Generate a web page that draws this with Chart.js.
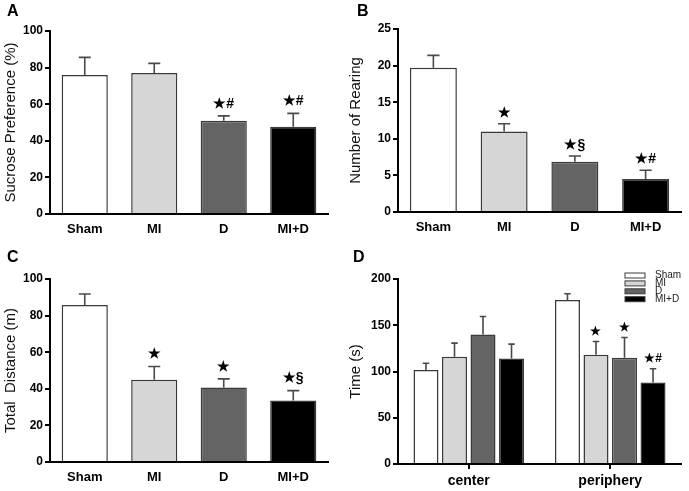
<!DOCTYPE html>
<html>
<head>
<meta charset="utf-8">
<script src="https://cdn.jsdelivr.net/npm/chart.js@4.4.1/dist/chart.umd.min.js"></script>
<style>
  body { margin: 0; background: #fff; }
  #wrap { position: relative; width: 689px; height: 491px; }
  canvas { position: absolute; }
</style>
</head>
<body>
<div id="wrap">
  <canvas id="panelA" width="345" height="245" style="left:0;top:0"></canvas>
  <canvas id="panelB" width="344" height="245" style="left:345px;top:0"></canvas>
  <canvas id="panelC" width="345" height="246" style="left:0;top:245px"></canvas>
  <canvas id="panelD" width="344" height="246" style="left:345px;top:245px"></canvas>
</div>
<script>
// ======================
// Datos
// ======================
const groups = ["Sham", "MI", "D", "MI+D"];
const groupColors = ["#ffffff", "#d6d6d6", "#646464", "#000000"];

// A - preferencia de sacarosa
const sucroseMean = [76, 77, 51, 47.7];
const sucroseErr = [9.6, 5.3, 2.6, 7.3];
const sucroseMarks = ["", "", "★#", "★#"];
const sucroseTicks = [0, 20, 40, 60, 80, 100];

// B - rearing
const rearingMean = [19.7, 11.0, 6.85, 4.5];
const rearingErr = [1.7, 1.05, 0.8, 1.2];
const rearingMarks = ["", "★", "★§", "★#"];
const rearingTicks = [0, 5, 10, 15, 20, 25];

// C - distancia total
const distanceMean = [85.8, 44.9, 40.7, 33.6];
const distanceErr = [6.0, 7.3, 4.7, 5.4];
const distanceMarks = ["", "★", "★", "★§"];
const distanceTicks = [0, 20, 40, 60, 80, 100];

// D - tiempo en centro / periferia
const zones = ["center", "periphery"];
const timeSham = [101.5, 177.4];
const timeShamErr = [7.5, 6.6];
const timeMI = [116, 118];
const timeMIErr = [14.7, 14.4];
const timeD = [140, 114.8];
const timeDErr = [19.4, 21.9];
const timeMID = [114, 88];
const timeMIDErr = [15.6, 15];
const timeMarks = [["", ""], ["", "★"], ["", "★"], ["", "★#"]];
const timeTicks = [0, 50, 100, 150, 200];

const FONT = "'Liberation Sans', Arial, sans-serif";

// ========== Plugins ==========
const errorBars = {
  id: "errorBars",
  afterDatasetsDraw(chart, args, opts) {
    const ctx = chart.ctx;
    const y = chart.scales.y;
    chart.data.datasets.forEach((ds, di) => {
      const meta = chart.getDatasetMeta(di);
      meta.data.forEach((bar, i) => {
        const top = y.getPixelForValue(ds.data[i] + ds.errors[i]);
        const cap = bar.width * 0.13;
        ctx.save();
        ctx.strokeStyle = "#4a4a4a";
        ctx.lineWidth = 1.6;
        ctx.beginPath();
        ctx.moveTo(bar.x, bar.y);
        ctx.lineTo(bar.x, top);
        ctx.moveTo(bar.x - cap, top);
        ctx.lineTo(bar.x + cap, top);
        ctx.stroke();
        const mark = ds.marks[i];
        if (mark) {
          ctx.fillStyle = "#000";
          ctx.font = opts.markFont;
          ctx.textAlign = "center";
          ctx.textBaseline = "bottom";
          ctx.fillText(mark, bar.x, top - opts.markGap);
        }
        ctx.restore();
      });
    });
  }
};

const panelLetter = {
  id: "panelLetter",
  afterDraw(chart, args, opts) {
    const ctx = chart.ctx;
    ctx.save();
    ctx.fillStyle = "#000";
    ctx.font = "bold 16px " + FONT;
    ctx.textBaseline = "alphabetic";
    ctx.fillText(opts.letter, opts.x, opts.y);
    ctx.restore();
  }
};

const boxLegend = {
  id: "boxLegend",
  afterDraw(chart, args, opts) {
    if (!opts.show) return;
    const ctx = chart.ctx;
    ctx.save();
    chart.data.datasets.forEach((ds, i) => {
      const cy = opts.y + i * 7.9;
      ctx.fillStyle = ds.backgroundColor;
      ctx.strokeStyle = "#3a3a3a";
      ctx.lineWidth = 1;
      ctx.fillRect(opts.x, cy - 2.5, 20, 5);
      ctx.strokeRect(opts.x, cy - 2.5, 20, 5);
      ctx.fillStyle = "#222";
      ctx.font = "10px " + FONT;
      ctx.textBaseline = "middle";
      ctx.fillText(ds.label, opts.x + 30, cy);
    });
    ctx.restore();
  }
};

// ========== Helper para cada panel ==========
function makePanel(id, o) {
  new Chart(document.getElementById(id), {
    type: "bar",
    data: { labels: o.labels, datasets: o.datasets },
    options: {
      responsive: false,
      animation: false,
      layout: { padding: { left: 0, top: o.top, right: o.right, bottom: 0 } },
      plugins: {
        legend: { display: false },
        tooltip: { enabled: false },
        errorBars: { markFont: o.markFont, markGap: o.markGap },
        panelLetter: { letter: o.letter, x: o.letterX, y: o.letterY },
        boxLegend: o.legend || { show: false }
      },
      scales: {
        x: {
          afterFit: s => { s.height = o.xHeight; },
          grid: { display: o.xTicks, drawOnChartArea: false, offset: false, drawTicks: o.xTicks,
                  tickLength: 5, color: "#000", lineWidth: 2 },
          border: { display: true, color: "#000", width: 2 },
          ticks: { color: "#000", padding: o.xTicks ? 4 : 8,
                   font: { family: FONT, size: o.xFontSize, weight: "bold" } }
        },
        y: {
          min: o.yTicks[0],
          max: o.yTicks[o.yTicks.length - 1],
          afterFit: s => { s.width = o.yWidth; },
          afterBuildTicks: s => { s.ticks = o.yTicks.map(v => ({ value: v })); },
          grid: { drawOnChartArea: false, drawTicks: true, tickLength: 5, color: "#000", lineWidth: 2 },
          border: { display: true, color: "#000", width: 2 },
          ticks: { color: "#000", padding: 2, font: { family: FONT, size: 12, weight: "bold" } },
          title: { display: true, text: o.yTitle, color: "#111", padding: { top: 2, bottom: 0 },
                   font: { family: FONT, size: 15 } }
        }
      }
    },
    plugins: [errorBars, panelLetter, boxLegend]
  });
}

function singleSeries(values, errors, marks) {
  return [{
    data: values,
    errors: errors,
    marks: marks,
    backgroundColor: groupColors,
    borderColor: "#3a3a3a",
    borderWidth: 1.5,
    categoryPercentage: 1,
    barPercentage: 0.664
  }];
}

// =============================
// A, B, C
// =============================
makePanel("panelA", {
  labels: groups, datasets: singleSeries(sucroseMean, sucroseErr, sucroseMarks),
  yTicks: sucroseTicks, yTitle: "Sucrose Preference (%)", letter: "A", letterX: 7, letterY: 16,
  top: 31, right: 17, yWidth: 50, xHeight: 31, xTicks: false, xFontSize: 13,
  markFont: "bold 14px " + FONT, markGap: 5
});

makePanel("panelB", {
  labels: groups, datasets: singleSeries(rearingMean, rearingErr, rearingMarks),
  yTicks: rearingTicks, yTitle: "Number of Rearing", letter: "B", letterX: 12, letterY: 16,
  top: 29, right: 8, yWidth: 53, xHeight: 33, xTicks: false, xFontSize: 13,
  markFont: "bold 14px " + FONT, markGap: 4
});

makePanel("panelC", {
  labels: groups, datasets: singleSeries(distanceMean, distanceErr, distanceMarks),
  yTicks: distanceTicks, yTitle: "Total  Distance (m)", letter: "C", letterX: 7, letterY: 17,
  top: 34, right: 17, yWidth: 50, xHeight: 29, xTicks: false, xFontSize: 13,
  markFont: "bold 14px " + FONT, markGap: 5
});

// =============================
// D - barras agrupadas
// =============================
const timeValues = [timeSham, timeMI, timeD, timeMID];
const timeErrors = [timeShamErr, timeMIErr, timeDErr, timeMIDErr];

makePanel("panelD", {
  labels: zones,
  datasets: groups.map((g, i) => ({
    label: g,
    data: timeValues[i],
    errors: timeErrors[i],
    marks: timeMarks[i],
    backgroundColor: groupColors[i],
    borderColor: "#3a3a3a",
    borderWidth: 1.5,
    categoryPercentage: 0.806,
    barPercentage: 0.877
  })),
  yTicks: timeTicks, yTitle: "Time (s)", letter: "D", letterX: 8, letterY: 17,
  top: 34, right: 8, yWidth: 53, xHeight: 27, xTicks: true, xFontSize: 14,
  markFont: "bold 12px " + FONT, markGap: 4,
  legend: { show: true, x: 280, y: 30.5 }
});
</script>
</body>
</html>
